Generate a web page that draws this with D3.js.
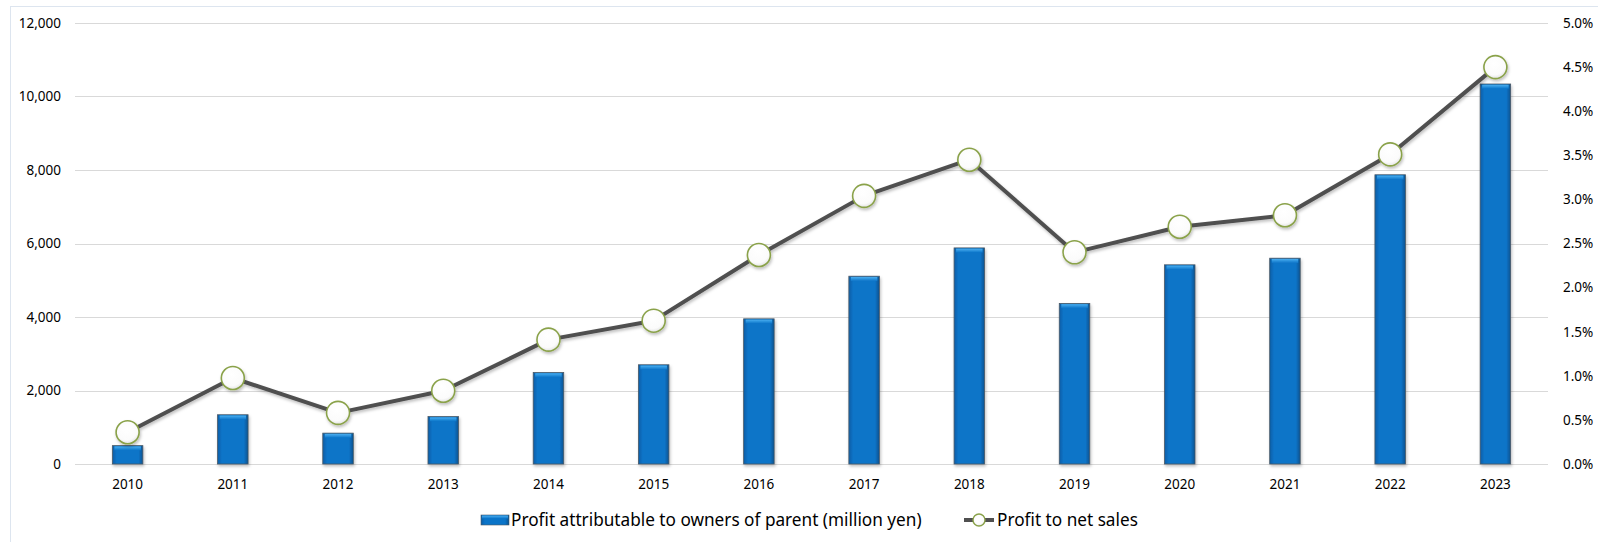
<!DOCTYPE html>
<html>
<head>
<meta charset="utf-8">
<script src="https://cdn.jsdelivr.net/npm/d3@7"></script>
<style>
  body { margin: 0; background: #fff; }
  text { font-family: "Noto Sans", sans-serif; fill: #000; }
</style>
</head>
<body>
<div id="chart"></div>
<script>
// Set the data
const years = ["2010", "2011", "2012", "2013", "2014", "2015", "2016",
  "2017", "2018", "2019", "2020", "2021", "2022", "2023"];
// Profit attributable to owners of parent (million yen)
const profit = [500, 1340, 840, 1290, 2490, 2700, 3950, 5110, 5880, 4370,
  5420, 5600, 7870, 10340];
// Profit to net sales (%)
const ratio = [0.36, 0.975, 0.58, 0.83, 1.41, 1.625, 2.37, 3.04, 3.45, 2.40,
  2.69, 2.82, 3.51, 4.50];
const leftTicks = [0, 2000, 4000, 6000, 8000, 10000, 12000];
const rightTicks = [0, 0.5, 1, 1.5, 2, 2.5, 3, 3.5, 4, 4.5, 5];
const legendLabels = ["Profit attributable to owners of parent (million yen)", "Profit to net sales"];

// set the dimensions of the graph
const W = 1598, H = 542;
const plotLeft = 75, plotRight = 1548, plotTop = 23, plotBottom = 464;

const svg = d3.select("#chart")
  .append("svg")
    .attr("width", W)
    .attr("height", H);

const defs = svg.append("defs");
// bar gradient (bevel look)
const bg = defs.append("linearGradient").attr("id", "barGrad")
  .attr("x1", "0").attr("x2", "1").attr("y1", "0").attr("y2", "0");
bg.append("stop").attr("offset", "0%").attr("stop-color", "#0a5da6");
bg.append("stop").attr("offset", "14%").attr("stop-color", "#0a74c8");
bg.append("stop").attr("offset", "86%").attr("stop-color", "#0a74c8");
bg.append("stop").attr("offset", "100%").attr("stop-color", "#08528f");
const cap = defs.append("linearGradient").attr("id", "capGrad")
  .attr("x1", "0").attr("x2", "0").attr("y1", "0").attr("y2", "1");
cap.append("stop").attr("offset", "0%").attr("stop-color", "#49aef0");
cap.append("stop").attr("offset", "100%").attr("stop-color", "#0a74c8");
const mg = defs.append("radialGradient").attr("id", "markGrad")
  .attr("cx", "45%").attr("cy", "35%").attr("r", "70%");
mg.append("stop").attr("offset", "0%").attr("stop-color", "#ffffff");
mg.append("stop").attr("offset", "70%").attr("stop-color", "#fbfbfb");
mg.append("stop").attr("offset", "100%").attr("stop-color", "#dcdcdc");
const sh = defs.append("filter").attr("id", "shadow")
  .attr("x", "-20%").attr("y", "-20%").attr("width", "140%").attr("height", "140%");
sh.append("feDropShadow").attr("dx", 1).attr("dy", 2).attr("stdDeviation", 1.5)
  .attr("flood-color", "#000").attr("flood-opacity", 0.25);

// outer frame
svg.append("rect")
  .attr("x", 10.5).attr("y", 6.5)
  .attr("width", W).attr("height", H)
  .attr("fill", "none")
  .attr("stroke", "#dde5ef");

// scales
const x = d3.scaleBand().domain(years).range([plotLeft, plotRight])
  .paddingInner(0.71).paddingOuter(0.355);
const y = d3.scaleLinear().domain([0, 12000]).range([plotBottom, plotTop]);
const y2 = d3.scaleLinear().domain([0, 5]).range([plotBottom, plotTop]);

// gridlines
svg.append("g")
  .selectAll("line")
  .data(leftTicks)
  .join("line")
    .attr("x1", plotLeft).attr("x2", plotRight)
    .attr("y1", d => Math.round(y(d)) + 0.5)
    .attr("y2", d => Math.round(y(d)) + 0.5)
    .attr("stroke", "#d9d9d9");

// Y axis left
const yAxis = svg.append("g")
  .attr("transform", `translate(${plotLeft},0)`)
  .call(d3.axisLeft(y).tickValues(leftTicks).tickFormat(d3.format(",")).tickSize(0).tickPadding(14));
yAxis.select(".domain").remove();
yAxis.selectAll("text").style("font-size", "13.5px").attr("fill", "#000");

// Y axis right
const y2Axis = svg.append("g")
  .attr("transform", `translate(${plotRight},0)`)
  .call(d3.axisRight(y2).tickValues(rightTicks).tickFormat(d => d.toFixed(1) + "%").tickSize(0).tickPadding(15));
y2Axis.select(".domain").remove();
y2Axis.selectAll("text").style("font-size", "13.5px").attr("fill", "#000");

// X axis
const xAxis = svg.append("g")
  .attr("transform", `translate(0,${plotBottom})`)
  .call(d3.axisBottom(x).tickSize(0).tickPadding(15));
xAxis.select(".domain").remove();
xAxis.selectAll("text").style("font-size", "13.5px").attr("fill", "#000");

// bars
const bars = svg.append("g").attr("filter", "url(#shadow)");
bars.selectAll("rect.bar")
  .data(profit)
  .join("rect")
    .attr("class", "bar")
    .attr("x", (d, i) => x(years[i]))
    .attr("y", d => y(d))
    .attr("width", x.bandwidth())
    .attr("height", d => plotBottom - y(d))
    .attr("fill", "url(#barGrad)")
    .attr("stroke", "#4d5a66")
    .attr("stroke-width", 0.8);
bars.selectAll("rect.cap")
  .data(profit)
  .join("rect")
    .attr("class", "cap")
    .attr("x", (d, i) => x(years[i]) + 2)
    .attr("y", d => y(d) + 0.8)
    .attr("width", x.bandwidth() - 4)
    .attr("height", 4)
    .attr("fill", "url(#capGrad)");

// line
const line = d3.line()
  .x((d, i) => x(years[i]) + x.bandwidth() / 2)
  .y(d => y2(d));
const lg = svg.append("g").attr("filter", "url(#shadow)");
lg.append("path")
  .datum(ratio)
  .attr("d", line)
  .attr("fill", "none")
  .attr("stroke", "#505050")
  .attr("stroke-width", 4)
  .attr("stroke-linejoin", "round");
lg.selectAll("circle")
  .data(ratio)
  .join("circle")
    .attr("cx", (d, i) => x(years[i]) + x.bandwidth() / 2)
    .attr("cy", d => y2(d))
    .attr("r", 11.5)
    .attr("fill", "url(#markGrad)")
    .attr("stroke", "#8aa24a")
    .attr("stroke-width", 1.6);

// legend
const legY = 520;
const leg = svg.append("g");
leg.append("rect")
  .attr("x", 481).attr("y", legY - 5).attr("width", 28).attr("height", 10)
  .attr("fill", "url(#barGrad)").attr("stroke", "#4d5a66").attr("stroke-width", 0.6);
leg.append("rect")
  .attr("x", 482).attr("y", legY - 4.4).attr("width", 26).attr("height", 3)
  .attr("fill", "url(#capGrad)");
leg.append("text")
  .attr("x", 511).attr("y", legY).attr("dy", "0.35em")
  .style("font-size", "17.2px")
  .text(legendLabels[0]);
leg.append("line")
  .attr("x1", 964).attr("x2", 994).attr("y1", legY).attr("y2", legY)
  .attr("stroke", "#505050").attr("stroke-width", 4);
leg.append("circle")
  .attr("cx", 979).attr("cy", legY).attr("r", 6)
  .attr("fill", "url(#markGrad)").attr("stroke", "#8aa24a").attr("stroke-width", 1.4);
leg.append("text")
  .attr("x", 997).attr("y", legY).attr("dy", "0.35em")
  .style("font-size", "17.2px")
  .text(legendLabels[1]);
</script>
</body>
</html>
